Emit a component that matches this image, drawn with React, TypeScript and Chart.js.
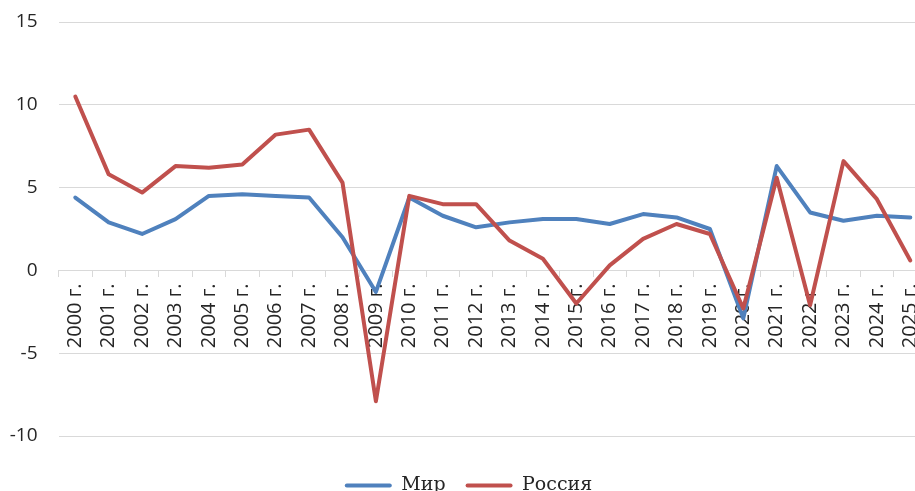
import { useEffect, useRef } from 'react';
import { Chart, registerables } from 'chart.js';

Chart.register(...registerables);

const categories = [
  '2000 г.', '2001 г.', '2002 г.', '2003 г.', '2004 г.', '2005 г.', '2006 г.', '2007 г.', '2008 г.',
  '2009 г.', '2010 г.', '2011 г.', '2012 г.', '2013 г.', '2014 г.', '2015 г.', '2016 г.', '2017 г.',
  '2018 г.', '2019 г.', '2020 г.', '2021 г.', '2022 г.', '2023 г.', '2024 г.', '2025 г.',
];

const worldValues = [
  4.4, 2.9, 2.2, 3.1, 4.5, 4.6, 4.5, 4.4, 2.0, -1.3, 4.4, 3.3, 2.6, 2.9, 3.1, 3.1, 2.8, 3.4, 3.2, 2.5,
  -2.9, 6.3, 3.5, 3.0, 3.3, 3.2,
];

const russiaValues = [
  10.5, 5.8, 4.7, 6.3, 6.2, 6.4, 8.2, 8.5, 5.3, -7.9, 4.5, 4.0, 4.0, 1.8, 0.7, -2.0, 0.3, 1.9, 2.8, 2.2,
  -2.3, 5.6, -2.1, 6.6, 4.3, 0.6,
];

const yTickValues = [-10, -5, 0, 5, 10, 15];

const BLUE = '#4F81BD';
const RED = '#C0504D';
const GRID = '#d9d9d9';
const TEXT = '#262626';

export default function App() {
  const ref = useRef<HTMLCanvasElement | null>(null);

  useEffect(() => {
    if (!ref.current) return;
    const chart = new Chart(ref.current, {
      type: 'line',
      data: {
        labels: categories,
        datasets: [
          {
            label: 'Мир',
            data: worldValues,
            borderColor: BLUE,
            backgroundColor: BLUE,
            borderWidth: 4,
            pointRadius: 0,
            pointHoverRadius: 0,
            tension: 0,
            borderJoinStyle: 'round',
            borderCapStyle: 'round',
            order: 1,
          },
          {
            label: 'Россия',
            data: russiaValues,
            borderColor: RED,
            backgroundColor: RED,
            borderWidth: 4,
            pointRadius: 0,
            pointHoverRadius: 0,
            tension: 0,
            borderJoinStyle: 'round',
            borderCapStyle: 'round',
            order: 0,
          },
        ],
      },
      options: {
        responsive: false,
        animation: false,
        devicePixelRatio: 1,
        layout: { padding: { left: 10, right: 3, top: 22, bottom: 0 } },
        scales: {
          x: {
            position: { y: 0 } as any,
            offset: true,
            grid: {
              offset: true,
              drawOnChartArea: false,
              drawTicks: true,
              tickLength: 6,
              color: GRID,
            },
            border: { display: true, color: GRID, width: 1 },
            ticks: {
              minRotation: 90,
              maxRotation: 90,
              autoSkip: false,
              padding: 7,
              color: TEXT,
              font: { family: 'Open Sans', size: 20 },
            },
            afterFit: (s: any) => {
              s.paddingLeft = 0;
              s.paddingRight = 0;
              s.paddingTop = 0;
              s.paddingBottom = 0;
            },
          },
          y: {
            min: -10,
            max: 15,
            afterBuildTicks: (s: any) => {
              s.ticks = yTickValues.map((v) => ({ value: v }));
            },
            grid: { color: GRID, drawTicks: false, lineWidth: 1 },
            border: { display: false },
            ticks: {
              padding: 21,
              color: TEXT,
              font: { family: 'Open Sans', size: 19 },
            },
            afterFit: (s: any) => {
              s.width = 48.6;
              s.paddingLeft = 0;
              s.paddingRight = 0;
              s.paddingTop = 0;
              s.paddingBottom = 0;
            },
          },
        },
        plugins: {
          tooltip: { enabled: false },
          legend: {
            position: 'bottom',
            align: 'center',
            fullSize: true,
            title: { display: true, text: '', padding: { top: 2, bottom: 0 }, font: { size: 15 } },
            labels: {
              boxWidth: 47,
              boxHeight: 4,
              padding: 20,
              color: TEXT,
              font: { family: 'DejaVu Serif', size: 19 },
              sort: (a: any, b: any) => a.datasetIndex - b.datasetIndex,
              generateLabels: (c: any) =>
                (Chart.defaults.plugins.legend.labels.generateLabels as any)(c).map((l: any) => ({
                  ...l,
                  fillStyle: l.strokeStyle,
                  lineWidth: 0,
                  borderRadius: 2,
                })),
            },
          },
        },
      },
    });
    return () => chart.destroy();
  }, []);

  return (
    <div
      style={{
        position: 'fixed',
        left: 0,
        top: 0,
        width: 915,
        height: 491,
        overflow: 'hidden',
        background: '#ffffff',
      }}
    >
      <canvas ref={ref} width={930} height={505} style={{ display: 'block' }} />
    </div>
  );
}
